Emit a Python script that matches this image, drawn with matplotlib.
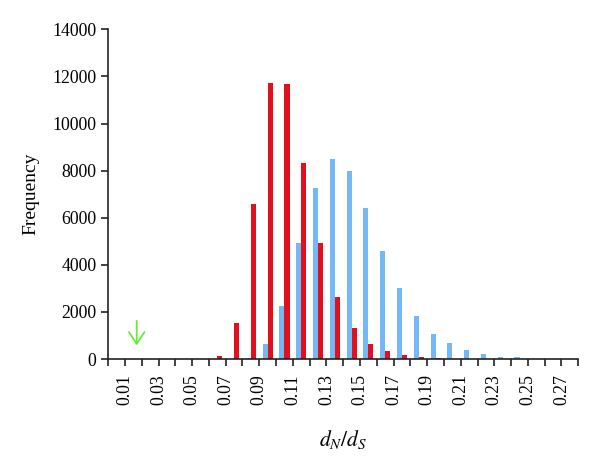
import matplotlib
matplotlib.use("Agg")
import matplotlib.pyplot as plt
import numpy as np

# histogram bins of dN/dS, width 0.01, from 0.00 to 0.28
bin_left = np.arange(0, 28) * 0.01

# frequencies per bin
blue_freq = [0, 0, 0, 0, 0, 0, 0, 0, 60, 640, 2250, 4940, 7270, 8480, 7980,
             6400, 4590, 3000, 1826, 1060, 693, 382, 212, 95, 75, 0, 0, 0]
red_freq = [0, 0, 0, 0, 0, 0, 130, 1541, 6570, 11707, 11664, 8310, 4912, 2646,
            1302, 637, 340, 170, 85, 25, 0, 0, 0, 0, 0, 0, 0, 0]

tick_labels = ["%.2f" % v for v in np.arange(0.01, 0.28, 0.02)]
arrow_x = 0.017

plt.rcParams['font.family'] = ['Liberation Serif', 'DejaVu Serif']
plt.rcParams['mathtext.fontset'] = 'stix'

fig = plt.figure(figsize=(6.0, 4.69), dpi=100)
ax = fig.add_axes([0.1803, 0.2345, 0.7835, 0.703])

w = 0.01
ax.bar(bin_left + 0.2 * w, blue_freq, width=0.3 * w, align='edge',
       color='#74B8F6', linewidth=0)
ax.bar(bin_left + 0.5 * w, red_freq, width=0.3 * w, align='edge',
       color='#E2101C', linewidth=0)

# green arrow marking the observed value
ax.annotate("", xy=(arrow_x, 580), xytext=(arrow_x, 1620),
            arrowprops=dict(arrowstyle='->, head_length=0.6, head_width=0.4',
                            color='#66EE33', lw=1.3, mutation_scale=14,
                            shrinkA=0, shrinkB=0))

ax.set_xlim(0, 0.28)
ax.set_ylim(0, 14000)
ax.set_yticks(np.arange(0, 14001, 2000))
ax.set_xticks(np.arange(0, 0.2801, 0.01), minor=True)
ax.set_xticks(np.arange(0.01, 0.28, 0.02))
ax.set_xticklabels(tick_labels, rotation=90)

ax.tick_params(axis='both', which='both', direction='out', length=5,
               width=1.2, labelsize=12.8, color='#222222')
ax.tick_params(axis='x', which='both', pad=6)

for side in ['top', 'right']:
    ax.spines[side].set_visible(False)
for side in ['left', 'bottom']:
    ax.spines[side].set_linewidth(1.2)
    ax.spines[side].set_color('#222222')

ax.set_ylabel("Frequency", fontsize=14, labelpad=9)
ax.set_xlabel(r"$d_N/d_S$", fontsize=15.5, labelpad=16)

fig.savefig("out.png", dpi=100)
